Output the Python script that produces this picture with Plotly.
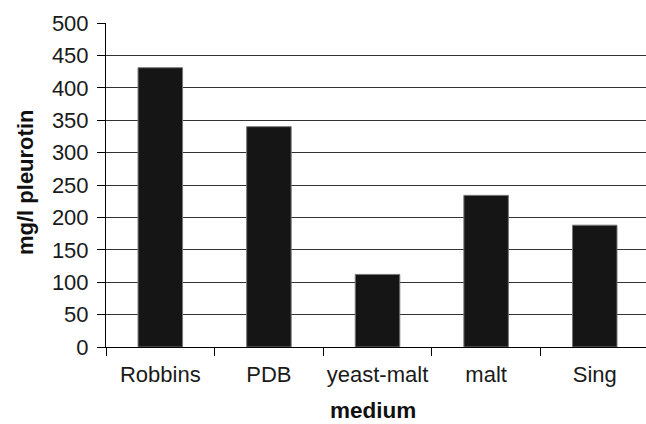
import plotly.graph_objects as go

categories = ["Robbins", "PDB", "yeast-malt", "malt", "Sing"]
pleurotin = [431, 340, 112, 234, 188]
y_ticks = [0, 50, 100, 150, 200, 250, 300, 350, 400, 450, 500]

W, H = 646, 424
L, R, T, B = 106, 0, 23, 77
PH = H - T - B
FONT = "Liberation Sans, Arial, Helvetica, sans-serif"

fig = go.Figure(go.Bar(
    x=categories, y=pleurotin,
    width=0.41,
    marker=dict(color="#151515", line=dict(color="#777777", width=1)),
))

pw = W - L - R
fig.update_layout(
    width=W, height=H,
    margin=dict(l=L, r=R, t=T, b=B, autoexpand=False),
    plot_bgcolor="white", paper_bgcolor="white",
    showlegend=False,
    font=dict(family=FONT, size=22, color="#1a1a1a"),
    xaxis=dict(
        type="category", range=[-0.5, 4.472],
        tickson="boundaries", ticks="outside", ticklen=8, tickcolor="black",
        showline=True, linecolor="black", linewidth=1,
        showgrid=False, tickfont=dict(size=22, family=FONT),
        tickangle=0, ticklabelstandoff=8,
    ),
    yaxis=dict(
        range=[0, 500], tickvals=y_ticks,
        ticks="outside", ticklen=8, tickcolor="black",
        showline=True, linecolor="black", linewidth=1,
        showgrid=True, gridcolor="#333333", gridwidth=1,
        zeroline=False, tickfont=dict(size=22, family=FONT),
        ticklabelstandoff=4,
    ),
    annotations=[
        dict(text="<b>mg/l pleurotin</b>", textangle=-90,
             xref="paper", yref="paper",
             x=(25 - L) / pw, y=1 - (183 - T) / PH,
             xanchor="center", yanchor="middle", showarrow=False,
             font=dict(size=22, family=FONT, color="#111111")),
        dict(text="<b>medium</b>",
             xref="paper", yref="paper",
             x=(373 - L) / pw, y=1 - (410 - T) / PH,
             xanchor="center", yanchor="middle", showarrow=False,
             borderpad=0,
             font=dict(size=22.5, family=FONT, color="#111111")),
    ],
)

fig.write_html(
    "out.html",
    config={"displayModeBar": False},
    post_script="document.body.style.margin='0';document.body.style.overflow='hidden';",
)
